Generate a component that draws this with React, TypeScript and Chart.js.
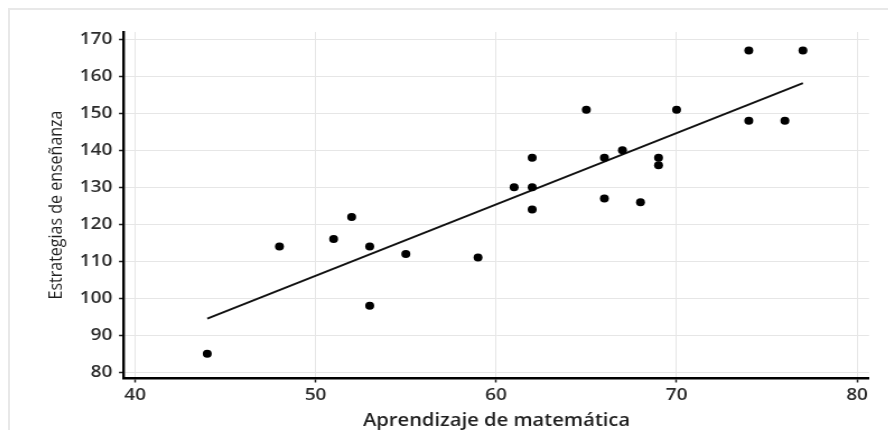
import React, { useEffect, useRef } from "react";
import { Chart, registerables } from "chart.js";

Chart.register(...registerables);

const mathScores = [44, 48, 51, 52, 53, 53, 55, 59, 61, 62, 62, 62, 65, 66, 66, 67, 68, 69, 69, 70, 74, 74, 76, 77];
const teachingScores = [85, 114, 116, 122, 114, 98, 112, 111, 130, 138, 130, 124, 151, 138, 127, 140, 126, 138, 136, 151, 167, 148, 148, 167];
const fitX = [44, 77];
const fitY = [94.5, 158.2];
const xTitle = "Aprendizaje de matemática";
const yTitle = "Estrategias de enseñanza";

const STRETCH = 1.12;
const CW = 791;
const CH = 428;

export default function App() {
  const ref = useRef<HTMLCanvasElement | null>(null);

  useEffect(() => {
    if (!ref.current) return;
    const tickFont = { family: "'Open Sans', sans-serif", size: 17, weight: 600 as any };
    const chart = new Chart(ref.current, {
      type: "scatter",
      data: {
        datasets: [
          {
            label: "Datos",
            data: mathScores.map((x, i) => ({ x, y: teachingScores[i] })),
            pointRadius: 4,
            pointHoverRadius: 4,
            pointBackgroundColor: "#000",
            pointBorderWidth: 0,
            borderWidth: 0,
          },
          {
            label: "Ajuste",
            data: fitX.map((x, i) => ({ x, y: fitY[i] })),
            showLine: true,
            borderColor: "#111",
            borderWidth: 2,
            pointRadius: 0,
            fill: false,
          } as any,
        ],
      },
      options: {
        responsive: false,
        animation: false,
        devicePixelRatio: 1,
        layout: { padding: { top: 24, right: 22.25, left: 0, bottom: 0 } },
        plugins: { legend: { display: false }, tooltip: { enabled: false } },
        scales: {
          x: {
            type: "linear",
            min: 39.39,
            max: 80.66,
            afterFit: (s: any) => {
              s.height = 58;
            },
            ticks: {
              stepSize: 10,
              includeBounds: false,
              color: "#2a2a2a",
              font: tickFont,
              padding: 2,
              maxRotation: 0,
            },
            grid: { color: "#e6e6e6", lineWidth: 1, tickColor: "#222", tickLength: 4.5, tickWidth: 1.5 },
            border: { color: "#000", width: 2.5 },
            title: {
              display: true,
              text: xTitle,
              color: "#1f1f1f",
              font: { family: "'Open Sans', sans-serif", size: 18, weight: 600 as any },
              padding: { top: 0, bottom: 4 },
            },
          },
          y: {
            type: "linear",
            min: 78.45,
            max: 172,
            afterFit: (s: any) => {
              s.width = 103.6;
            },
            ticks: {
              stepSize: 10,
              includeBounds: false,
              color: "#2a2a2a",
              font: tickFont,
              padding: 6,
            },
            grid: { color: "#e6e6e6", lineWidth: 1, tickColor: "#222", tickLength: 4.5, tickWidth: 1.5 },
            border: { color: "#000", width: 2.4 },
            title: {
              display: true,
              text: yTitle,
              color: "#1f1f1f",
              font: { family: "'Open Sans', sans-serif", size: 16, weight: 400 as any },
              padding: { top: 34.15, bottom: 0 },
            },
          },
        },
      },
    });
    return () => chart.destroy();
  }, []);

  return (
    <div style={{ position: "relative", width: 880, height: 422 }}>
      <div
        style={{
          position: "absolute",
          left: 0,
          top: 0,
          width: 888,
          height: 430,
          boxSizing: "border-box",
          borderTop: "2px solid #e8e8e8",
          borderLeft: "2px solid #e8e8e8",
        }}
      />
      <div
        style={{
          position: "absolute",
          left: 0,
          top: 0,
          width: CW,
          height: CH,
          transform: `scaleX(${STRETCH})`,
          transformOrigin: "0 0",
        }}
      >
        <canvas ref={ref} width={CW} height={CH} style={{ width: CW, height: CH, display: "block" }} />
      </div>
    </div>
  );
}
